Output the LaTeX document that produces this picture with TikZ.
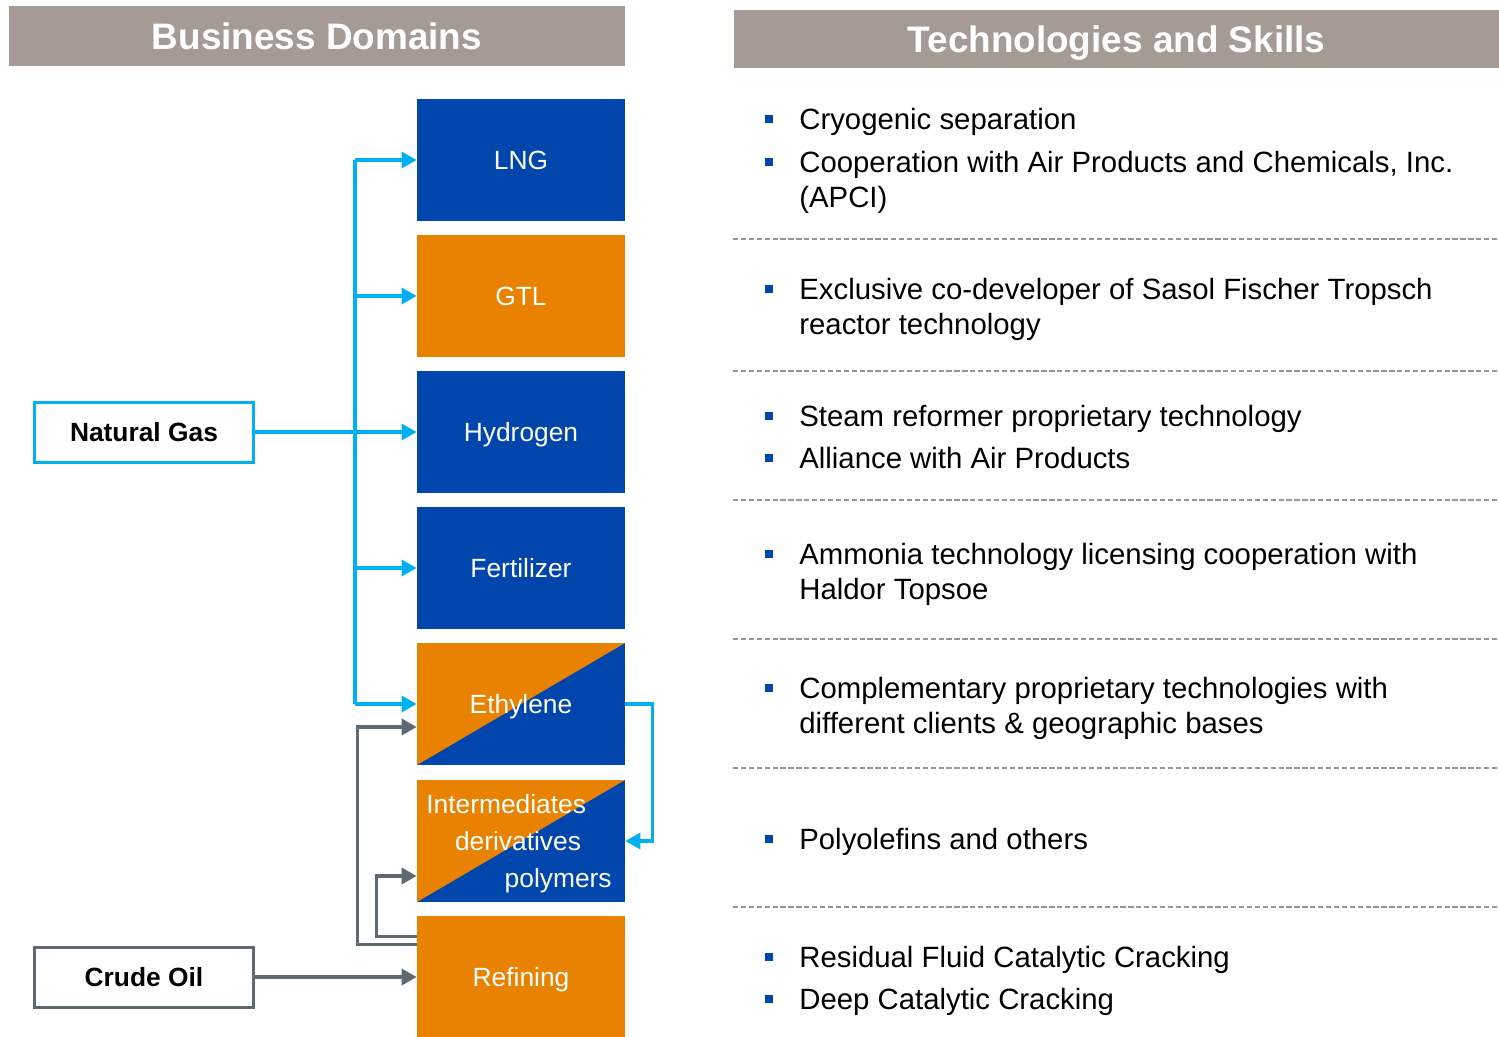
\documentclass[tikz,border=0pt]{standalone}
\usepackage{fontspec}
\setmainfont{Liberation Sans}
\usetikzlibrary{arrows.meta}
\definecolor{domblue}{RGB}{0,70,173}
\definecolor{domorange}{RGB}{232,130,0}
\definecolor{gasline}{RGB}{0,176,240}
\definecolor{oilline}{RGB}{94,106,113}
\definecolor{headgray}{RGB}{165,155,148}
\definecolor{sepgray}{RGB}{150,150,150}
\tikzset{
  domtext/.style={text=white, inner sep=0pt, text height=10.8pt, text depth=0pt, font=\fontsize{15}{18}\selectfont},
  dombox/.style={domtext, fill=domblue, minimum width=4.16cm, minimum height=2.44cm},
  orangebox/.style={dombox, fill=domorange},
  splitbox/.style={dombox, path picture={\fill[domorange] (path picture bounding box.south west)
    -- (path picture bounding box.north west) -- (path picture bounding box.north east) -- cycle;}},
  srcbox/.style={fill=white, line width=0.06cm, minimum width=4.4cm, minimum height=1.2cm,
    font=\bfseries\fontsize{15}{18}\selectfont},
  header/.style={fill=headgray, text=white, inner sep=0pt, text height=15pt, text depth=0pt,
    font=\bfseries\fontsize{21}{24}\selectfont},
  carrow/.style={gasline, line width=0.065cm, -{Triangle[length=0.3cm,width=0.32cm]}},
  garrow/.style={oilline, line width=0.07cm, -{Triangle[length=0.3cm,width=0.32cm]}},
  skill/.style={anchor=base west, inner sep=0pt, font=\fontsize{16.7}{20}\selectfont},
}
\begin{document}
\begin{tikzpicture}[x=0.02cm, y=-0.02cm]
  \useasboundingbox (0,0) rectangle (1499,1036);
  % headers
  \node[header, minimum width=12.32cm, minimum height=1.2cm](H1) at (317,36) {Business Domains};
  \node[header, minimum width=15.3cm, minimum height=1.16cm](H2) at (1116.5,39) {Technologies and Skills};
  % business domains
  \foreach \i/\y/\c/\t in {1/160/dombox/LNG, 2/296/orangebox/GTL, 3/432/dombox/Hydrogen,
      4/568/dombox/Fertilizer, 5/704/splitbox/Ethylene, 6/841/splitbox/{}, 7/977/orangebox/Refining}{
    \node[\c](N\i) at (521,\y) {\t};
  }
  \node[domtext, anchor=west](I1) at (426,804) {Intermediates};
  \node[domtext](I2) at (518,841) {derivatives};
  \node[domtext, anchor=east](I3) at (612,878) {polymers};
  % sources
  \node[srcbox, draw=gasline](NG) at (144,432) {Natural Gas};
  \node[srcbox, draw=oilline](CO) at (144,977) {Crude Oil};
  \coordinate (trunk) at (355,432);
  \draw[gasline, line width=0.065cm] (N1.west -| trunk) -- (N5.west -| trunk);
  \foreach \i in {1,2,4,5}{
    \draw[carrow] (N\i.west -| trunk) -- (N\i.west);
  }
  \draw[carrow] (NG.east) -- (N3.west);
  \draw[carrow] (N5.east) -- ++(27,0) |- (N6.east);
  \draw[garrow] (CO.east) -- (N7.west);
  \draw[garrow] ([yshift=-0.58cm]N7.north west) -- ++(-59,0) |- ([yshift=-0.46cm]N5.west);
  \draw[garrow] ([yshift=-0.42cm]N7.north west) -- ++(-40,0) |- ([yshift=-0.7cm]N6.west);
  % technologies and skills
  \foreach \y in {239,371,500,639,768,907}{
    \draw[sepgray, line width=0.04cm, dash pattern=on 3pt off 1.5pt] (733,\y) -- (1499,\y);
  }
  \foreach \y [count=\i] in {119,162,289,416,458,554,688,839,957,999}{
    \fill[domblue] (765,\y-4) rectangle (773,\y+4);
  }
  \foreach \y/\t [count=\i] in {119/Cryogenic separation,
      162/{Cooperation with Air Products and Chemicals, Inc.}, 197/(APCI),
      289/Exclusive co-developer of Sasol Fischer Tropsch, 324/reactor technology,
      416/Steam reformer proprietary technology, 458/Alliance with Air Products,
      554/Ammonia technology licensing cooperation with, 589/Haldor Topsoe,
      688/Complementary proprietary technologies with, 723/different clients \& geographic bases,
      839/Polyolefins and others, 957/Residual Fluid Catalytic Cracking, 999/Deep Catalytic Cracking}{
    \node[skill](T\i) at (799,\y+10) {\t};
  }
\end{tikzpicture}
\end{document}
